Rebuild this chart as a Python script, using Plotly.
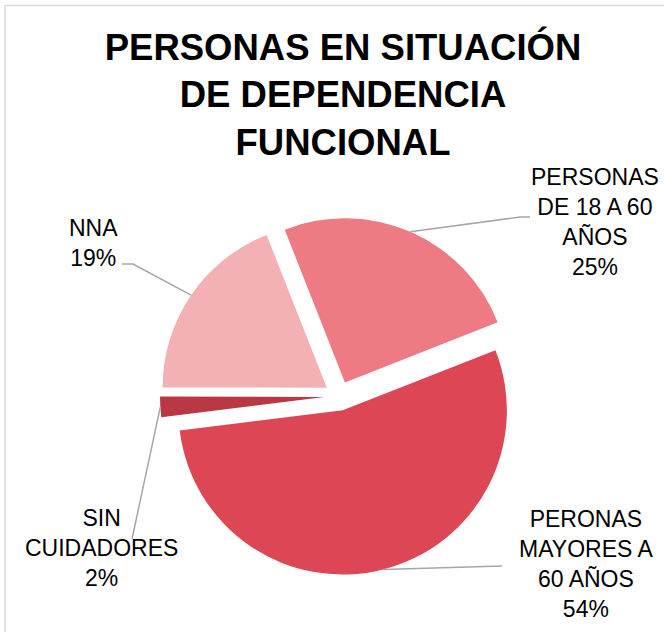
import math
import plotly.graph_objects as go

# ---- data ----
labels = ["PERSONAS DE 18 A 60 AÑOS", "PERONAS MAYORES A 60 AÑOS", "SIN CUIDADORES", "NNA"]
values = [25, 54, 2, 19]
label_texts = ["PERSONAS<br>DE 18 A 60<br>AÑOS<br>25%",
               "PERONAS<br>MAYORES A<br>60 AÑOS<br>54%",
               "SIN<br>CUIDADORES<br>2%",
               "NNA<br>19%"]
colors = ["#EE7B83", "#DD4654", "#B93844", "#F4B1B5"]
title_text = "<b>PERSONAS EN SITUACIÓN<br>DE DEPENDENCIA<br>FUNCIONAL</b>"

# ---- layout constants ----
W, H = 664, 632
ROT = -21.5          # first slice starts 21.5° left of 12 o'clock
PULL = 0.09
CX, CY = 339, 396    # pie centre (px)
HALF = 179           # half-size of pie domain (px)
R = HALF / (1 + PULL)
FONT = "Liberation Sans, Arial, sans-serif"
LINE_COLOR = "#A6A6A6"

# label anchor (text centre) and elbow point of leader line, in px
label_pos = [(595, 222), (586, 564), (101, 548), (93, 243)]
elbows = [[(520, 217), (530, 217)],
          [(502, 566)],
          [(132, 539)],
          [(133, 264), (122, 264)]]

fig = go.Figure(go.Pie(
    labels=labels, values=values, sort=False, direction="clockwise",
    rotation=ROT, pull=[PULL] * len(values),
    marker=dict(colors=colors, line=dict(width=0)),
    textinfo="none", hoverinfo="label+percent", showlegend=False,
    domain=dict(x=[(CX - HALF) / W, (CX + HALF) / W],
                y=[1 - (CY + HALF) / H, 1 - (CY - HALF) / H]),
))

def px2paper(x, y):
    return x / W, 1 - y / H

shapes = []
annotations = []
total = sum(values)
cum = 0
for i, v in enumerate(values):
    mid = ROT + (cum + v / 2) / total * 360
    cum += v
    a = math.radians(mid)
    tx = CX + R * (1 + PULL) * math.sin(a)
    ty = CY - R * (1 + PULL) * math.cos(a)
    pts = [(tx, ty)] + elbows[i]
    path = "M " + " L ".join("%.4f,%.4f" % px2paper(*p) for p in pts)
    shapes.append(dict(type="path", path=path, xref="paper", yref="paper",
                       line=dict(color=LINE_COLOR, width=1.5)))
    lx, ly = px2paper(*label_pos[i])
    annotations.append(dict(text=label_texts[i], x=lx, y=ly, xref="paper", yref="paper",
                            xanchor="center", yanchor="middle", showarrow=False,
                            align="center", font=dict(family=FONT, size=23, color="#000000")))

# chart-area border (top & left visible)
shapes.append(dict(type="rect", xref="paper", yref="paper",
                   x0=5 / W, x1=1.05, y0=-0.05, y1=1 - 5.5 / H,
                   line=dict(color="#D9D9D9", width=1.5), fillcolor="rgba(0,0,0,0)"))

fig.update_layout(
    width=W, height=H,
    margin=dict(l=0, r=0, t=0, b=0),
    paper_bgcolor="white", plot_bgcolor="white",
    title=dict(text=title_text, x=343 / W, xanchor="center", y=1 - 60 / H, yanchor="top",
               yref="container", font=dict(family=FONT, size=36.5, color="#000000")),
    shapes=shapes, annotations=annotations,
)

fig.write_html("out.html", config={"displayModeBar": False},
               post_script="document.body.style.margin='0';document.body.style.overflow='hidden';")
